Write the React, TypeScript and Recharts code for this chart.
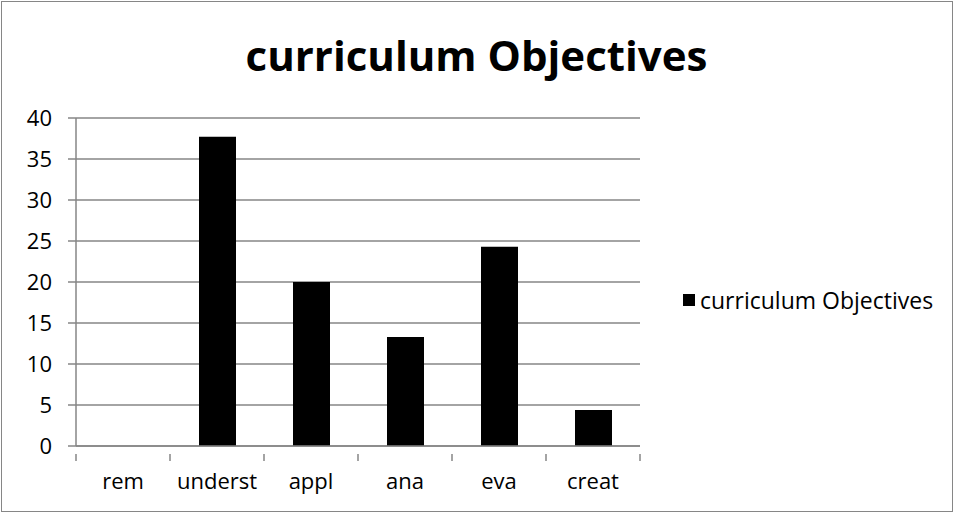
import { BarChart, Bar, XAxis, YAxis, CartesianGrid } from 'recharts';

const categories = ['rem', 'underst', 'appl', 'ana', 'eva', 'creat'];
const objectiveValues = [0, 37.7, 20, 13.3, 24.3, 4.4];
const yTicks = [0, 5, 10, 15, 20, 25, 30, 35, 40];
const seriesName = 'curriculum Objectives';

const FONT = '"Open Sans", sans-serif';
const GRID = '#868686';

const data = categories.map((name, i) => ({ name, value: objectiveValues[i] }));

if (typeof document !== 'undefined') {
  document.body.style.margin = '0';
}

// category label plus tick marks on the band edges (Excel style)
function CategoryTick(props: any) {
  const { x, y, payload, index } = props;
  const half = payload?.offset ?? 0;
  const last = index === categories.length - 1;
  return (
    <g>
      <line x1={x - half} y1={y} x2={x - half} y2={y + 7} stroke={GRID} strokeWidth={1.5} />
      {last && <line x1={x + half} y1={y} x2={x + half} y2={y + 7} stroke={GRID} strokeWidth={1.5} />}
      <text x={x} y={y + 35} textAnchor="middle" fill="#000" fontSize={22} fontFamily={FONT}>
        {payload.value}
      </text>
    </g>
  );
}

export default function App() {
  return (
    <div style={{ position: 'relative', width: 953, height: 512, background: '#fff' }}>
      <BarChart
        width={953}
        height={512}
        data={data}
        margin={{ top: 118, right: 313, bottom: 0, left: 0 }}
      >
        <CartesianGrid vertical={false} stroke={GRID} strokeWidth={1.5} />
        <XAxis
          dataKey="name"
          height={66}
          axisLine={{ stroke: GRID, strokeWidth: 1.5 }}
          tickLine={false}
          tick={<CategoryTick />}
          interval={0}
        />
        <YAxis
          width={76}
          domain={[0, 40]}
          ticks={yTicks}
          axisLine={{ stroke: GRID, strokeWidth: 1.5 }}
          tickLine={{ stroke: GRID, strokeWidth: 1.5 }}
          tickSize={8}
          tickMargin={16}
          tick={{ fill: '#000', fontSize: 22, fontFamily: FONT }}
        />
        <Bar
          dataKey="value"
          name={seriesName}
          fill="#000"
          barSize={37}
          isAnimationActive={false}
        />
      </BarChart>
      <div
        style={{
          position: 'absolute',
          left: 0,
          top: 34,
          width: 953,
          textAlign: 'center',
          fontFamily: FONT,
          fontWeight: 700,
          fontSize: 42,
          lineHeight: 1,
          color: '#000',
        }}
      >
        {seriesName}
      </div>
      <div
        style={{
          position: 'absolute',
          left: 683,
          top: 285,
          display: 'flex',
          alignItems: 'center',
          fontFamily: FONT,
          fontSize: 23,
          lineHeight: '30px',
          color: '#000',
        }}
      >
        <span style={{ width: 12, height: 12, background: '#000', marginRight: 5, display: 'inline-block' }} />
        {seriesName}
      </div>
      <div
        style={{
          position: 'absolute',
          left: 1,
          top: 1,
          width: 950,
          height: 509,
          border: '1.5px solid #868686',
          pointerEvents: 'none',
        }}
      />
    </div>
  );
}
